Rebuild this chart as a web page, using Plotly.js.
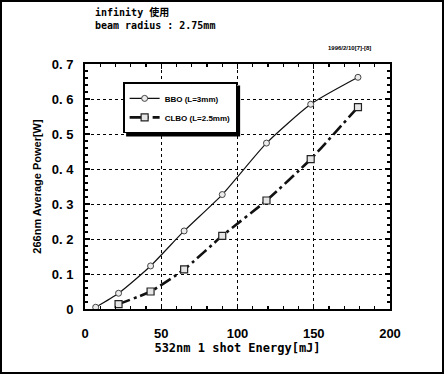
<!DOCTYPE html>
<html>
<head>
<meta charset="utf-8">
<script src="https://cdn.plot.ly/plotly-3.0.1.min.js"></script>
<style>
html,body{margin:0;padding:0;background:#fff;}
#frame{width:444px;height:374px;box-sizing:border-box;border:2px solid #000;position:relative;overflow:hidden;}
#chart{position:absolute;left:-2px;top:-2px;width:444px;height:374px;}
</style>
</head>
<body>
<div id="frame"><div id="chart"></div></div>
<script>
// Data
const bboEnergy  = [7, 22, 43, 65, 90, 119, 148, 179];
const bboPower   = [0.005, 0.045, 0.123, 0.223, 0.327, 0.474, 0.585, 0.662];
const clboEnergy = [22, 43, 65, 90, 119, 148, 179];
const clboPower  = [0.014, 0.05, 0.113, 0.209, 0.31, 0.428, 0.577];

const yTickVals  = [0, 0.1, 0.2, 0.3, 0.4, 0.5, 0.6, 0.7];
const yTickText  = ["0", "0. 1", "0. 2", "0. 3", "0. 4", "0. 5", "0. 6", "0. 7"];
const xTickVals  = [0, 50, 100, 150, 200];
const xTickText  = ["0", "50", "100", "150", "200"];

const seriesNames = ["BBO (L=3mm)", "CLBO (L=2.5mm)"];

const boldFont = "Liberation Sans, Arial, sans-serif";

const traces = [
  {
    x: bboEnergy, y: bboPower, name: seriesNames[0], type: "scatter", mode: "lines+markers",
    line: {color: "#111", width: 1.2, shape: "spline", smoothing: 0.6},
    marker: {symbol: "circle", size: 6, color: "#ececec", line: {color: "#444", width: 1}}
  },
  {
    x: clboEnergy, y: clboPower, name: seriesNames[1], type: "scatter", mode: "lines+markers",
    line: {color: "#111", width: 2.6, shape: "spline", smoothing: 0.5, dash: "12px,4px,3px,4px"},
    marker: {symbol: "square", size: 7, color: "#e6e6e6", line: {color: "#222", width: 1.2}}
  }
];

const axisCommon = {
  showline: true, linecolor: "#000", linewidth: 2, mirror: "ticks",
  ticks: "inside", ticklen: 5, tickwidth: 1.2, tickcolor: "#000",
  showgrid: true, gridcolor: "#000", gridwidth: 1, griddash: "dot",
  zeroline: false,
  tickfont: {family: boldFont, size: 13, color: "#000", weight: "bold"}
};

const layout = {
  width: 444, height: 374,
  paper_bgcolor: "#fff", plot_bgcolor: "#fff",
  margin: {l: 85, r: 54, t: 64, b: 65},
  showlegend: true,
  legend: {
    x: 0.125, y: 0.925, xanchor: "left", yanchor: "top",
    bgcolor: "#fff", bordercolor: "#000", borderwidth: 1.5,
    font: {family: boldFont, size: 8, color: "#000", weight: "bold"},
    tracegroupgap: 0, itemwidth: 30
  },
  title: {
    text: "infinity 使用<br>beam radius : 2.75mm",
    x: 95/444, xanchor: "left", xref: "container",
    y: 1 - 16/374, yanchor: "top", yref: "container",
    font: {family: "DejaVu Sans Mono, Noto Sans CJK JP, monospace", size: 10, color: "#000", weight: "bold"}
  },
  xaxis: Object.assign({}, axisCommon, {
    range: [0, 200], tickvals: xTickVals, ticktext: xTickText,
    ticklabelstandoff: 11,
    minor: {dtick: 10, ticks: "inside", ticklen: 3, tickcolor: "#000", showgrid: false},
    title: {text: "532nm 1 shot Energy[mJ]", standoff: 2,
      font: {family: "DejaVu Sans Mono, monospace", size: 12, color: "#000", weight: "bold"}}
  }),
  yaxis: Object.assign({}, axisCommon, {
    range: [0, 0.7], tickvals: yTickVals, ticktext: yTickText,
    ticklabelstandoff: 7,
    minor: {dtick: 0.02, ticks: "inside", ticklen: 3, tickcolor: "#000", showgrid: false},
    title: {text: "266nm Average Power[W]", standoff: 8,
      font: {family: boldFont, size: 11, color: "#000", weight: "bold"}}
  }),
  annotations: [
    {text: "1996/2/10[7]-[8]", xref: "paper", yref: "paper", x: 0.945, y: 1.045,
     xanchor: "right", yanchor: "bottom", showarrow: false,
     font: {family: boldFont, size: 6, color: "#000", weight: "bold"}}
  ]
};

Plotly.newPlot("chart", traces, layout, {staticPlot: true, displayModeBar: false}).then(function (gd) {
  // drop shadow behind the legend box
  const fl = gd._fullLayout;
  const lg = fl.legend;
  const w = lg._width, h = lg._height;
  if (!w || !h) return;
  const pw = fl._size.w, ph = fl._size.h, off = 3;
  const x0 = lg.x + off / pw, x1 = lg.x + (w + off) / pw;
  const y1 = lg.y - off / ph, y0 = lg.y - (h + off) / ph;
  return Plotly.relayout(gd, {shapes: [{
    type: "rect", xref: "paper", yref: "paper", x0: x0, x1: x1, y0: y0, y1: y1,
    fillcolor: "#000", line: {width: 0}, layer: "above"
  }]});
});
</script>
</body>
</html>
